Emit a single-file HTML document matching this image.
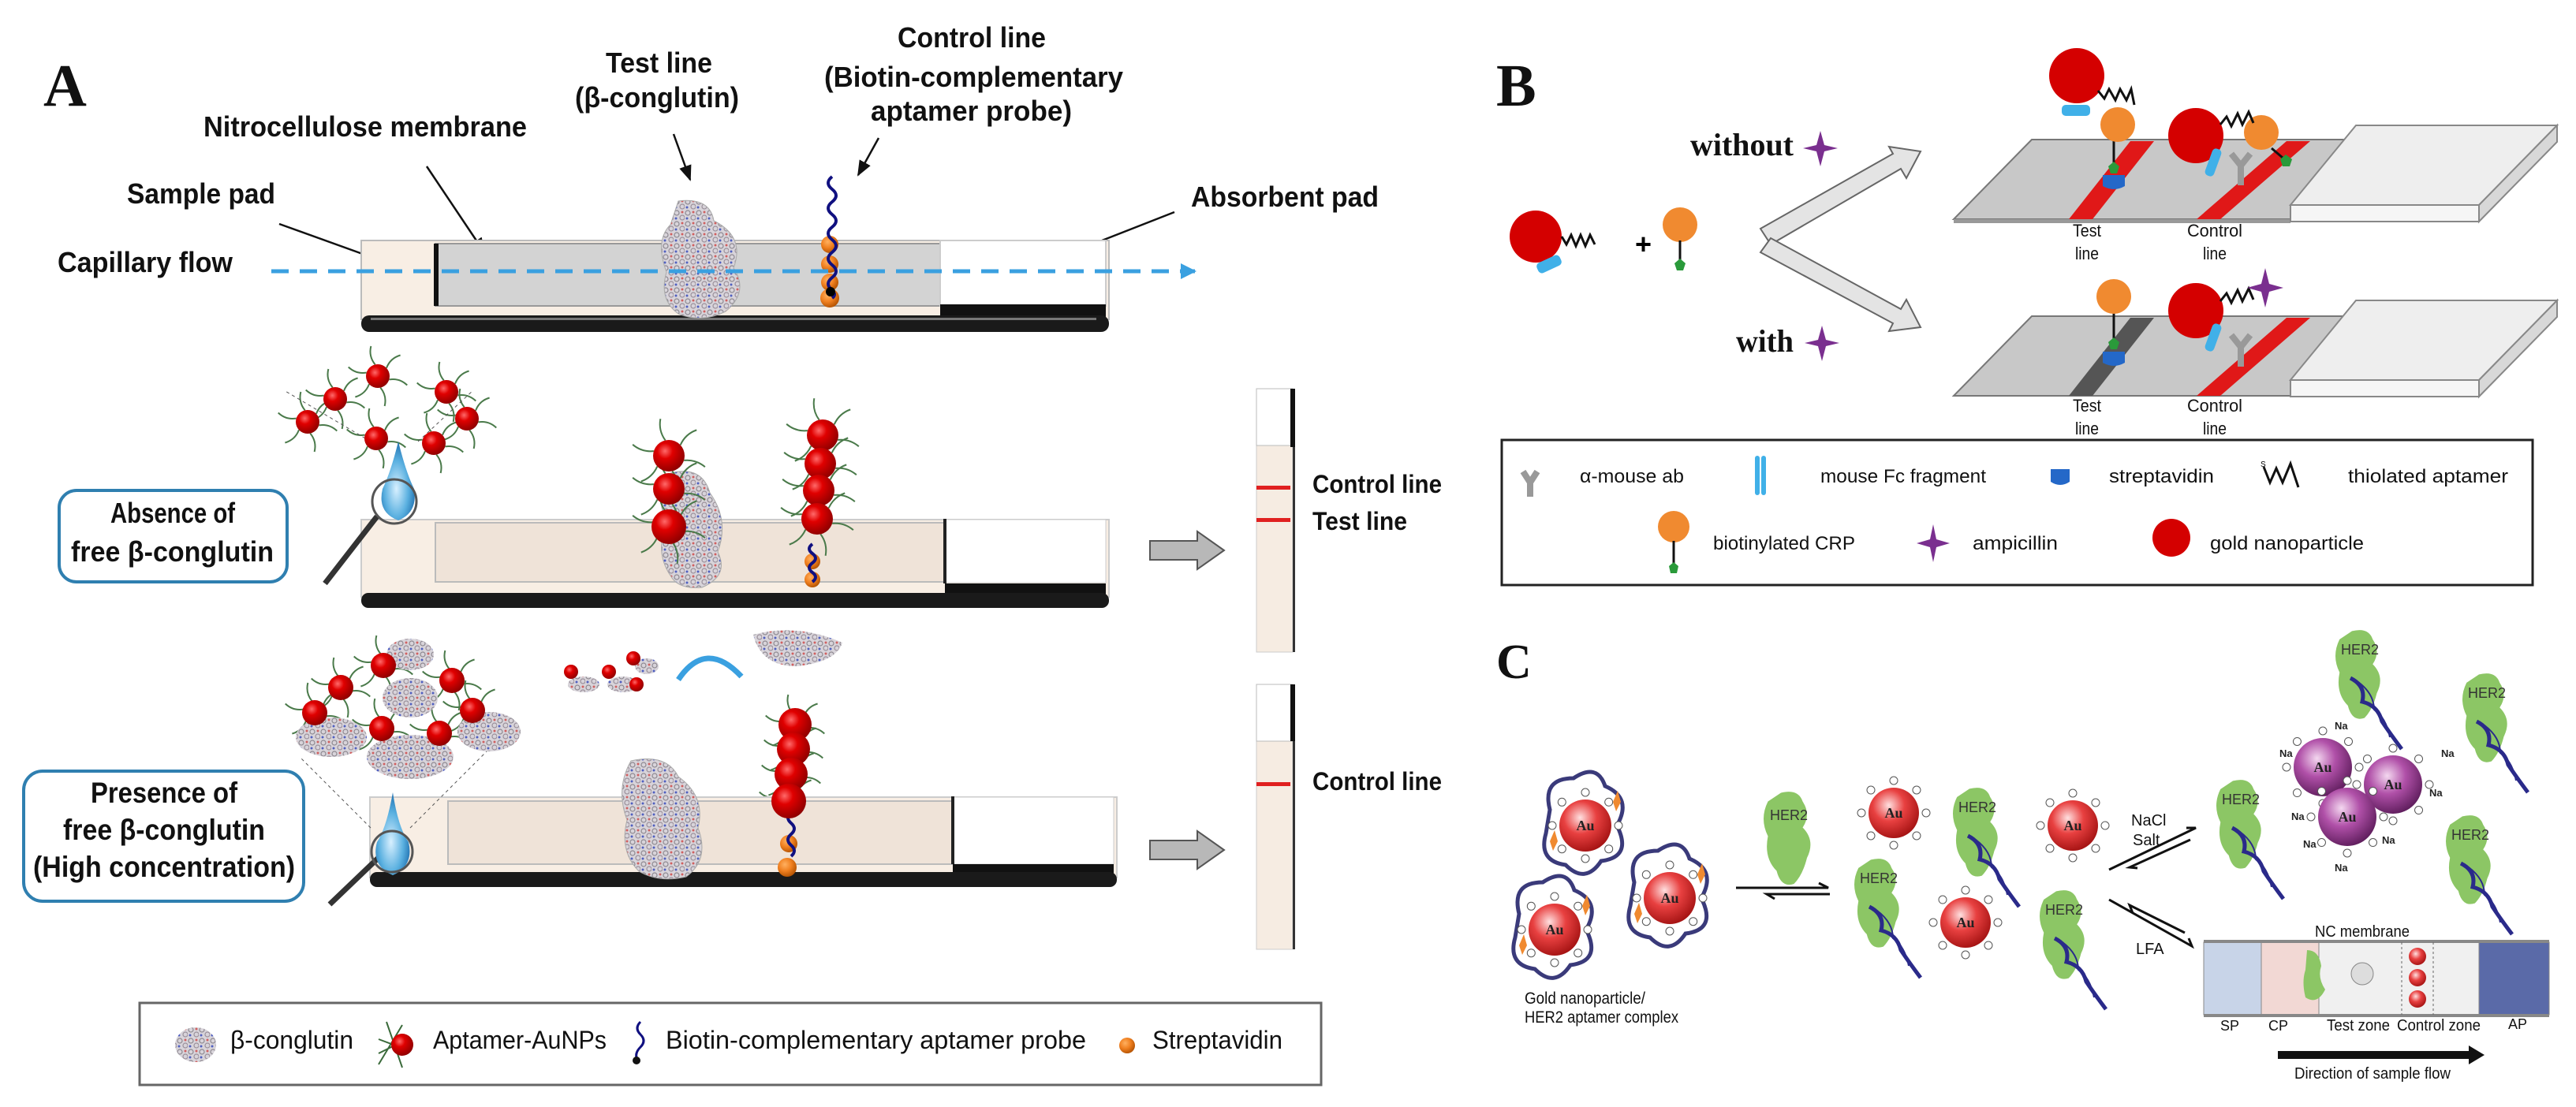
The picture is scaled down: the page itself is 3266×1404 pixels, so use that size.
<!DOCTYPE html>
<html><head><meta charset="utf-8">
<style>
html,body{margin:0;padding:0;background:#fff;}
svg{display:block;}
.n{font-family:"Liberation Sans Narrow","Liberation Sans",sans-serif;fill:#111;}
.s{font-family:"Liberation Serif",serif;font-weight:bold;fill:#111;}
</style></head>
<body>
<svg id="c" xmlns="http://www.w3.org/2000/svg" width="3266" height="1404" viewBox="0 0 3266 1404">
<defs>
<radialGradient id="rg" cx="0.38" cy="0.35" r="0.7"><stop offset="0" stop-color="#ff6a6a"/><stop offset="0.35" stop-color="#e00000"/><stop offset="1" stop-color="#8a0000"/></radialGradient>
<radialGradient id="rg2" cx="0.4" cy="0.35" r="0.7"><stop offset="0" stop-color="#ffe0e0"/><stop offset="0.45" stop-color="#e84040"/><stop offset="1" stop-color="#a01010"/></radialGradient>
<radialGradient id="og" cx="0.38" cy="0.35" r="0.7"><stop offset="0" stop-color="#ffb060"/><stop offset="0.5" stop-color="#f08020"/><stop offset="1" stop-color="#b05000"/></radialGradient>
<radialGradient id="pg" cx="0.4" cy="0.35" r="0.7"><stop offset="0" stop-color="#f4d8f0"/><stop offset="0.45" stop-color="#b050a8"/><stop offset="1" stop-color="#5a1a58"/></radialGradient>
<radialGradient id="dg" cx="0.45" cy="0.6" r="0.6"><stop offset="0" stop-color="#d8f0ff"/><stop offset="0.6" stop-color="#5ab0e0"/><stop offset="1" stop-color="#1f70b0"/></radialGradient>
<pattern id="pp" width="14" height="14" patternUnits="userSpaceOnUse"><rect width="14" height="14" fill="#d8d4da"/><circle cx="4" cy="4" r="3" fill="none" stroke="#8d8890" stroke-width="1.2"/><circle cx="11" cy="10" r="3" fill="none" stroke="#9a8f9a" stroke-width="1.2"/><circle cx="11" cy="3" r="1.5" fill="#d06060"/><circle cx="3" cy="11" r="1.5" fill="#5060c0"/></pattern>
<marker id="ah" viewBox="0 0 10 10" refX="9" refY="5" markerWidth="8" markerHeight="8" orient="auto"><path d="M0,1 L10,5 L0,9 Z" fill="#111"/></marker>
<marker id="ab" viewBox="0 0 10 10" refX="9" refY="5" markerWidth="4" markerHeight="4" orient="auto"><path d="M0,0 L10,5 L0,10 Z" fill="#3aa0e0"/></marker>
</defs>

<!-- ================= PANEL A ================= -->
<text class="s" x="55" y="134" font-size="76">A</text>
<text class="n" x="258" y="173" font-size="36" font-weight="bold" textLength="410" lengthAdjust="spacingAndGlyphs">Nitrocellulose membrane</text>
<text class="n" x="768" y="92" font-size="36" font-weight="bold" textLength="135" lengthAdjust="spacingAndGlyphs">Test line</text>
<text class="n" x="729" y="136" font-size="36" font-weight="bold" textLength="208" lengthAdjust="spacingAndGlyphs">(β-conglutin)</text>
<text class="n" x="1138" y="60" font-size="36" font-weight="bold" textLength="188" lengthAdjust="spacingAndGlyphs">Control line</text>
<text class="n" x="1045" y="110" font-size="36" font-weight="bold" textLength="379" lengthAdjust="spacingAndGlyphs">(Biotin-complementary</text>
<text class="n" x="1104" y="153" font-size="36" font-weight="bold" textLength="255" lengthAdjust="spacingAndGlyphs">aptamer probe)</text>
<text class="n" x="161" y="258" font-size="36" font-weight="bold" textLength="188" lengthAdjust="spacingAndGlyphs">Sample pad</text>
<text class="n" x="73" y="345" font-size="36" font-weight="bold" textLength="222" lengthAdjust="spacingAndGlyphs">Capillary flow</text>
<text class="n" x="1510" y="262" font-size="36" font-weight="bold" textLength="238" lengthAdjust="spacingAndGlyphs">Absorbent pad</text>

<g stroke="#111" stroke-width="2.5" fill="none" marker-end="url(#ah)">
<line x1="354" y1="284" x2="479" y2="329"/>
<line x1="541" y1="211" x2="614" y2="320"/>
<line x1="854" y1="170" x2="875" y2="228"/>
<line x1="1114" y1="175" x2="1088" y2="222"/>
<line x1="1489" y1="269" x2="1359" y2="320"/>
</g>

<rect x="458" y="305" width="948" height="100" fill="#f8eee4" stroke="#bbb" stroke-width="2"/>
<rect x="552" y="309" width="640" height="79" fill="#d3d3d3" stroke="#999" stroke-width="2"/>
<rect x="550" y="309" width="6" height="79" fill="#111"/>
<rect x="1192" y="305" width="210" height="83" fill="#fff" stroke="#ccc" stroke-width="2"/>
<rect x="1192" y="386" width="210" height="16" fill="#111"/>
<rect x="458" y="400" width="948" height="21" rx="10" fill="#1a1a1a"/>
<rect x="470" y="403" width="920" height="3" fill="#777"/>
<path d="M860,255 Q900,250 905,280 Q945,300 930,340 Q950,370 920,395 Q890,410 860,398 Q835,380 845,345 Q830,305 850,285 Z" fill="url(#pp)" stroke="#aaa"/>
<circle cx="1052" cy="310" r="11" fill="url(#og)"/><circle cx="1052" cy="335" r="11" fill="url(#og)"/><circle cx="1052" cy="358" r="11" fill="url(#og)"/><circle cx="1052" cy="378" r="12" fill="url(#og)"/>
<path d="M1055,224 q-10,8 0,16 q10,8 0,16 q-10,8 0,16 q10,8 0,16 q-10,8 0,16 q10,8 0,16 q-10,8 0,16 q10,8 0,16 q-10,8 0,16 q6,6 0,10" fill="none" stroke="#101080" stroke-width="4"/>
<circle cx="1053" cy="370" r="6" fill="#000"/>
<line x1="344" y1="344" x2="1515" y2="344" stroke="#3aa0e0" stroke-width="5" stroke-dasharray="22,14" marker-end="url(#ab)"/>

<rect x="458" y="659" width="948" height="98" fill="#f8eee4" stroke="#ccc" stroke-width="2"/>
<rect x="552" y="663" width="646" height="75" fill="#efe3d8" stroke="#bbb" stroke-width="2"/>
<rect x="1198" y="659" width="204" height="80" fill="#fff" stroke="#ccc"/>
<rect x="1196" y="658" width="4" height="82" fill="#222"/>
<rect x="1198" y="740" width="204" height="16" fill="#111"/>
<rect x="458" y="752" width="948" height="19" rx="9" fill="#1a1a1a"/>
<path d="M850,600 Q890,590 900,625 Q925,660 910,700 Q925,730 890,745 Q860,748 850,730 Q830,700 845,665 Q830,630 850,600Z" fill="url(#pp)" stroke="#aaa"/>
<g id="strands"></g>
<circle cx="1030" cy="735" r="10" fill="url(#og)"/><circle cx="1030" cy="712" r="10" fill="url(#og)"/>
<path d="M1030,690 q-8,6 0,12 q8,6 0,12 q-8,6 0,12 q8,6 0,12" stroke="#101080" stroke-width="4" fill="none"/>
<circle cx="848" cy="578" r="20" fill="url(#rg)"/><circle cx="848" cy="620" r="20" fill="url(#rg)"/><circle cx="848" cy="668" r="22" fill="url(#rg)"/>
<circle cx="1043" cy="552" r="20" fill="url(#rg)"/><circle cx="1040" cy="588" r="20" fill="url(#rg)"/><circle cx="1038" cy="622" r="20" fill="url(#rg)"/><circle cx="1036" cy="658" r="20" fill="url(#rg)"/>

<rect x="75" y="622" width="289" height="116" rx="22" fill="#fff" stroke="#2f7fb0" stroke-width="4"/>
<text class="n" x="140" y="663" font-size="36" font-weight="bold" textLength="158" lengthAdjust="spacingAndGlyphs">Absence of</text>
<text class="n" x="90" y="712" font-size="36" font-weight="bold" textLength="257" lengthAdjust="spacingAndGlyphs">free β-conglutin</text>
<line x1="478" y1="655" x2="412" y2="740" stroke="#333" stroke-width="7"/>
<path d="M505,560 Q495,600 485,620 Q478,650 505,660 Q530,650 525,620 Q515,600 505,560Z" fill="url(#dg)"/>
<circle cx="500" cy="636" r="28" fill="none" stroke="#555" stroke-width="3"/>
<line x1="470" y1="560" x2="360" y2="495" stroke="#555" stroke-dasharray="4,4"/><line x1="530" y1="560" x2="600" y2="495" stroke="#555" stroke-dasharray="4,4"/>
<g>
<circle cx="479" cy="477" r="15" fill="url(#rg)"/><circle cx="425" cy="506" r="15" fill="url(#rg)"/><circle cx="566" cy="497" r="15" fill="url(#rg)"/><circle cx="390" cy="535" r="15" fill="url(#rg)"/><circle cx="592" cy="531" r="15" fill="url(#rg)"/><circle cx="477" cy="556" r="15" fill="url(#rg)"/><circle cx="550" cy="562" r="15" fill="url(#rg)"/>
</g>
<path d="M1458,686 h60 v-12 l34,24 l-34,24 v-12 h-60 z" fill="#b8b8b8" stroke="#555" stroke-width="2"/>
<rect x="1593" y="493" width="46" height="334" fill="#f6ece2" stroke="#ccc"/>
<rect x="1593" y="493" width="46" height="72" fill="#fff" stroke="#bbb"/>
<rect x="1636" y="493" width="6" height="74" fill="#111"/>
<rect x="1639" y="567" width="3" height="260" fill="#333"/>
<rect x="1593" y="616" width="43" height="5" fill="#e02020"/>
<rect x="1593" y="657" width="43" height="5" fill="#e02020"/>
<text class="n" x="1664" y="625" font-size="32" font-weight="bold" textLength="164" lengthAdjust="spacingAndGlyphs">Control line</text>
<text class="n" x="1664" y="672" font-size="32" font-weight="bold" textLength="120" lengthAdjust="spacingAndGlyphs">Test line</text>

<rect x="469" y="1011" width="947" height="102" fill="#f8eee4" stroke="#ccc" stroke-width="2"/>
<rect x="568" y="1016" width="640" height="80" fill="#efe3d8" stroke="#bbb" stroke-width="2"/>
<rect x="1208" y="1011" width="204" height="85" fill="#fff" stroke="#ccc"/>
<rect x="1206" y="1010" width="4" height="86" fill="#222"/>
<rect x="1208" y="1096" width="204" height="16" fill="#111"/>
<rect x="469" y="1106" width="947" height="19" rx="9" fill="#1a1a1a"/>
<path d="M800,965 Q845,955 860,985 Q895,1010 885,1050 Q900,1090 870,1112 Q835,1120 810,1105 Q785,1080 795,1040 Q780,1000 800,965Z" fill="url(#pp)" stroke="#aaa"/>
<circle cx="1000" cy="1070" r="11" fill="url(#og)"/><circle cx="998" cy="1100" r="12" fill="url(#og)"/>
<path d="M1003,1030 q-8,7 0,14 q8,7 0,14 q-8,7 0,14 q8,7 0,14" stroke="#101080" stroke-width="4" fill="none"/>
<circle cx="1008" cy="919" r="21" fill="url(#rg)"/><circle cx="1006" cy="950" r="21" fill="url(#rg)"/><circle cx="1003" cy="982" r="21" fill="url(#rg)"/><circle cx="1000" cy="1016" r="22" fill="url(#rg)"/>
<rect x="30" y="978" width="355" height="165" rx="24" fill="#fff" stroke="#2f7fb0" stroke-width="4"/>
<text class="n" x="115" y="1018" font-size="37" font-weight="bold" textLength="186" lengthAdjust="spacingAndGlyphs">Presence of</text>
<text class="n" x="80" y="1065" font-size="37" font-weight="bold" textLength="256" lengthAdjust="spacingAndGlyphs">free β-conglutin</text>
<text class="n" x="42" y="1112" font-size="37" font-weight="bold" textLength="332" lengthAdjust="spacingAndGlyphs">(High concentration)</text>
<line x1="488" y1="1080" x2="418" y2="1147" stroke="#333" stroke-width="7"/>
<path d="M498,1005 Q490,1050 478,1068 Q470,1098 498,1110 Q525,1098 518,1068 Q505,1050 498,1005Z" fill="url(#dg)"/>
<circle cx="497" cy="1080" r="26" fill="none" stroke="#555" stroke-width="3"/>
<line x1="470" y1="1050" x2="380" y2="960" stroke="#555" stroke-dasharray="4,4"/><line x1="520" y1="1050" x2="620" y2="950" stroke="#555" stroke-dasharray="4,4"/>
<g>
<ellipse cx="420" cy="935" rx="45" ry="25" fill="url(#pp)"/><ellipse cx="520" cy="960" rx="55" ry="28" fill="url(#pp)"/><ellipse cx="620" cy="928" rx="40" ry="25" fill="url(#pp)"/><ellipse cx="520" cy="830" rx="30" ry="20" fill="url(#pp)"/><ellipse cx="520" cy="885" rx="35" ry="25" fill="url(#pp)"/>
<circle cx="486" cy="844" r="16" fill="url(#rg)"/><circle cx="432" cy="872" r="16" fill="url(#rg)"/><circle cx="573" cy="863" r="16" fill="url(#rg)"/><circle cx="399" cy="904" r="16" fill="url(#rg)"/><circle cx="599" cy="901" r="16" fill="url(#rg)"/><circle cx="484" cy="924" r="16" fill="url(#rg)"/><circle cx="557" cy="930" r="16" fill="url(#rg)"/>
</g>
<ellipse cx="740" cy="868" rx="20" ry="10" fill="url(#pp)"/><ellipse cx="790" cy="868" rx="20" ry="10" fill="url(#pp)"/><ellipse cx="820" cy="845" rx="15" ry="10" fill="url(#pp)"/>
<circle cx="724" cy="852" r="9" fill="url(#rg)"/><circle cx="772" cy="852" r="9" fill="url(#rg)"/><circle cx="803" cy="835" r="9" fill="url(#rg)"/><circle cx="807" cy="868" r="9" fill="url(#rg)"/>
<path d="M860,862 Q895,810 940,858" fill="none" stroke="#3aa0e0" stroke-width="7"/>
<path d="M955,805 Q1010,790 1068,815 Q1060,840 1010,845 Q965,845 955,805Z" fill="url(#pp)"/>
<path d="M1458,1066 h60 v-12 l34,24 l-34,24 v-12 h-60 z" fill="#b8b8b8" stroke="#555" stroke-width="2"/>
<rect x="1593" y="868" width="46" height="336" fill="#f6ece2" stroke="#ccc"/>
<rect x="1593" y="868" width="46" height="72" fill="#fff" stroke="#bbb"/>
<rect x="1636" y="868" width="6" height="72" fill="#111"/>
<rect x="1639" y="940" width="3" height="264" fill="#333"/>
<rect x="1593" y="992" width="43" height="5" fill="#e02020"/>
<text class="n" x="1664" y="1002" font-size="32" font-weight="bold" textLength="164" lengthAdjust="spacingAndGlyphs">Control line</text>

<rect x="177" y="1272" width="1498" height="104" fill="#fff" stroke="#666" stroke-width="3"/>
<ellipse cx="248" cy="1325" rx="26" ry="22" fill="url(#pp)"/>
<text class="n" x="292" y="1330" font-size="32" textLength="156" lengthAdjust="spacingAndGlyphs">β-conglutin</text>
<g stroke="#3a6a3a" stroke-width="2" fill="none"><path d="M510,1300 l-30,50 M490,1296 l20,58 M480,1318 l40,15 M520,1316 l-40,20"/></g>
<circle cx="510" cy="1325" r="14" fill="url(#rg)"/>
<text class="n" x="549" y="1330" font-size="32" textLength="220" lengthAdjust="spacingAndGlyphs">Aptamer-AuNPs</text>
<path d="M812,1296 q-8,8 0,16 q8,8 0,16 q-8,8 -4,16" stroke="#101080" stroke-width="3" fill="none"/><circle cx="807" cy="1345" r="5" fill="#111"/>
<text class="n" x="844" y="1330" font-size="32" textLength="533" lengthAdjust="spacingAndGlyphs">Biotin-complementary aptamer probe</text>
<circle cx="1429" cy="1326" r="10" fill="url(#og)"/>
<text class="n" x="1461" y="1330" font-size="32" textLength="165" lengthAdjust="spacingAndGlyphs">Streptavidin</text>

<!-- ================= PANEL B ================= -->
<text class="s" x="1897" y="134" font-size="76">B</text>
<text class="s" x="2143" y="197" font-size="40" textLength="131" lengthAdjust="spacingAndGlyphs">without</text>
<path d="M2308,166 L2313,184 L2330,188 L2313,192 L2308,211 L2303,192 L2286,188 L2303,184Z" fill="#7a2f8f"/>
<text class="s" x="2201" y="446" font-size="40" textLength="73" lengthAdjust="spacingAndGlyphs">with</text>
<path d="M2310,413 L2315,431 L2332,435 L2315,439 L2310,458 L2305,439 L2288,435 L2305,431Z" fill="#7a2f8f"/>
<circle cx="1947" cy="300" r="33" fill="#d40000"/>
<rect x="1948" y="328" width="32" height="14" rx="5" fill="#40b0e8" transform="rotate(-25 1964 335)"/>
<path d="M1980,300 l6,10 l6,-12 l6,14 l6,-14 l6,14 l6,-14 l6,12" stroke="#111" stroke-width="3" fill="none"/>
<text x="2073" y="322" font-family="Liberation Sans" font-size="36" font-weight="bold">+</text>
<circle cx="2130" cy="285" r="22" fill="#f08a30"/>
<line x1="2130" y1="305" x2="2130" y2="330" stroke="#111" stroke-width="3"/>
<path d="M2130,328 l7,6 l-3,9 h-8 l-3,-9z" fill="#2a9a3a"/>
<path d="M2232,290 L2400,195 L2395,186 L2435,192 L2417,226 L2410,214 L2245,310 Z" fill="#e4e4e4" stroke="#666" stroke-width="2"/>
<path d="M2232,320 L2400,410 L2395,420 L2435,415 L2417,380 L2410,392 L2245,302 Z" fill="#e4e4e4" stroke="#666" stroke-width="2"/>
<path d="M2576,177 L2987,177 L2904,278 L2477,278 Z" fill="#c8c8c8" stroke="#777" stroke-width="2"/>
<path d="M2477,278 L2904,278 L2904,283 L2477,283 Z" fill="#999"/>
<path d="M2701,179 L2731,179 L2653,278 L2623,278 Z" fill="#e01818"/>
<path d="M2899,179 L2929,179 L2815,278 L2785,278 Z" fill="#e01818"/>
<path d="M2987,159 L3242,159 L3143,260 L2904,260 Z" fill="#eeeeee" stroke="#888" stroke-width="2"/>
<path d="M2904,260 L3143,260 L3143,281 L2904,281 Z" fill="#f6f6f6" stroke="#888" stroke-width="2"/>
<path d="M3143,260 L3242,159 L3242,180 L3143,281 Z" fill="#d8d8d8" stroke="#888" stroke-width="2"/>
<text class="n" x="2628" y="300" font-size="22" textLength="36" lengthAdjust="spacingAndGlyphs">Test</text>
<text class="n" x="2631" y="329" font-size="22" textLength="30" lengthAdjust="spacingAndGlyphs">line</text>
<text class="n" x="2773" y="300" font-size="22" textLength="70" lengthAdjust="spacingAndGlyphs">Control</text>
<text class="n" x="2793" y="329" font-size="22" textLength="30" lengthAdjust="spacingAndGlyphs">line</text>
<line x1="2680" y1="175" x2="2680" y2="218" stroke="#111" stroke-width="3"/>
<path d="M2680,205 l7,6 l-3,9 h-8 l-3,-9z" fill="#2a9a3a"/>
<path d="M2666,222 h28 v14 q-14,8 -28,0z" fill="#2468c8"/>
<circle cx="2633" cy="96" r="35" fill="#d40000"/>
<rect x="2614" y="133" width="36" height="14" rx="5" fill="#40b0e8"/>
<circle cx="2685" cy="158" r="22" fill="#f08a30"/>
<path d="M2660,115 l8,10 l6,-12 l8,14 l6,-14 l8,14 l6,-14 l4,20" stroke="#111" stroke-width="3" fill="none"/>
<path d="M2841,235 v-25 l-12,-15 M2841,210 l12,-15" stroke="#999" stroke-width="8" fill="none"/>
<circle cx="2784" cy="172" r="35" fill="#d40000"/>
<rect x="2800" y="188" width="12" height="36" rx="5" fill="#40b0e8" transform="rotate(20 2806 206)"/>
<circle cx="2867" cy="168" r="22" fill="#f08a30"/>
<path d="M2880,188 l14,12" stroke="#111" stroke-width="3"/>
<path d="M2898,196 l8,6 l-3,9 h-9 l-3,-9z" fill="#2a9a3a"/>
<path d="M2815,158 l8,-10 l6,12 l8,-16 l6,14 l8,-16 l6,14" stroke="#111" stroke-width="3" fill="none"/>
<path d="M2576,401 L2987,401 L2904,502 L2477,502 Z" fill="#c8c8c8" stroke="#777" stroke-width="2"/>
<path d="M2701,403 L2731,403 L2653,502 L2623,502 Z" fill="#555"/>
<path d="M2899,403 L2929,403 L2815,502 L2785,502 Z" fill="#e01818"/>
<path d="M2987,381 L3242,381 L3143,482 L2904,482 Z" fill="#eeeeee" stroke="#888" stroke-width="2"/>
<path d="M2904,482 L3143,482 L3143,503 L2904,503 Z" fill="#f6f6f6" stroke="#888" stroke-width="2"/>
<path d="M3143,482 L3242,381 L3242,402 L3143,503 Z" fill="#d8d8d8" stroke="#888" stroke-width="2"/>
<text class="n" x="2628" y="522" font-size="22" textLength="36" lengthAdjust="spacingAndGlyphs">Test</text>
<text class="n" x="2631" y="551" font-size="22" textLength="30" lengthAdjust="spacingAndGlyphs">line</text>
<text class="n" x="2773" y="522" font-size="22" textLength="70" lengthAdjust="spacingAndGlyphs">Control</text>
<text class="n" x="2793" y="551" font-size="22" textLength="30" lengthAdjust="spacingAndGlyphs">line</text>
<line x1="2680" y1="395" x2="2680" y2="440" stroke="#111" stroke-width="3"/>
<path d="M2680,428 l7,6 l-3,9 h-8 l-3,-9z" fill="#2a9a3a"/>
<path d="M2666,446 h28 v14 q-14,8 -28,0z" fill="#2468c8"/>
<circle cx="2680" cy="376" r="22" fill="#f08a30"/>
<path d="M2841,465 v-25 l-12,-15 M2841,440 l12,-15" stroke="#999" stroke-width="8" fill="none"/>
<circle cx="2784" cy="394" r="35" fill="#d40000"/>
<rect x="2800" y="410" width="12" height="36" rx="5" fill="#40b0e8" transform="rotate(20 2806 428)"/>
<path d="M2815,382 l8,-10 l6,12 l8,-16 l6,14 l8,-16 l6,14" stroke="#111" stroke-width="3" fill="none"/>
<path d="M2872,340 L2877,360 L2895,365 L2877,370 L2872,390 L2867,370 L2849,365 L2867,360Z" fill="#7a2f8f"/>
<rect x="1904" y="558" width="1307" height="184" fill="#fff" stroke="#222" stroke-width="3"/>
<path d="M1940,630 v-18 l-9,-14 M1940,612 l9,-14" stroke="#999" stroke-width="8" fill="none"/>
<text class="n" x="2003" y="612" font-size="24" textLength="132" lengthAdjust="spacingAndGlyphs">α-mouse ab</text>
<rect x="2225" y="578" width="6" height="50" rx="3" fill="#40b0e8"/><rect x="2233" y="578" width="6" height="50" rx="3" fill="#40b0e8"/>
<text class="n" x="2308" y="612" font-size="24" textLength="210" lengthAdjust="spacingAndGlyphs">mouse Fc fragment</text>
<path d="M2600,595 h24 v16 q-12,8 -24,0z" fill="#2468c8"/>
<text class="n" x="2674" y="612" font-size="24" textLength="133" lengthAdjust="spacingAndGlyphs">streptavidin</text>
<path d="M2870,592 l8,20 l8,-18 l8,18 l10,-24 l10,30" stroke="#111" stroke-width="3" fill="none"/>
<text x="2866" y="592" font-family="Liberation Sans" font-size="10">S</text>
<text class="n" x="2977" y="612" font-size="24" textLength="203" lengthAdjust="spacingAndGlyphs">thiolated aptamer</text>
<circle cx="2122" cy="668" r="20" fill="#f08a30"/>
<line x1="2122" y1="686" x2="2122" y2="715" stroke="#111" stroke-width="3"/>
<path d="M2122,713 l6,5 l-2,9 h-8 l-2,-9z" fill="#2a9a3a"/>
<text class="n" x="2172" y="697" font-size="24" textLength="180" lengthAdjust="spacingAndGlyphs">biotinylated CRP</text>
<path d="M2451,665 L2455,684 L2472,689 L2455,694 L2451,713 L2447,694 L2430,689 L2447,684Z" fill="#7a2f8f"/>
<text class="n" x="2501" y="697" font-size="24" textLength="108" lengthAdjust="spacingAndGlyphs">ampicillin</text>
<circle cx="2753" cy="682" r="24" fill="#d40000"/>
<text class="n" x="2802" y="697" font-size="24" textLength="195" lengthAdjust="spacingAndGlyphs">gold nanoparticle</text>

<!-- ================= PANEL C ================= -->
<text class="s" x="1897" y="860" font-size="62">C</text>
<g id="pc"></g>
<g stroke="#111" stroke-width="3" fill="none">
<path d="M2201,1126 H2318 l-12,-6"/><path d="M2320,1134 H2240 l10,6"/>
<path d="M2674,1103 L2784,1050 l-12,0"/><path d="M2777,1065 L2700,1100 l10,1"/>
<path d="M2674,1141 L2779,1200 l-4,-10"/><path d="M2770,1183 L2700,1148 l4,10"/>
</g>
<text class="n" x="2702" y="1047" font-size="20">NaCl</text>
<text class="n" x="2704" y="1072" font-size="20">Salt</text>
<text class="n" x="2708" y="1210" font-size="20">LFA</text>
<text class="n" x="1933" y="1273" font-size="21" textLength="153" lengthAdjust="spacingAndGlyphs">Gold nanoparticle/</text>
<text class="n" x="1933" y="1297" font-size="21" textLength="195" lengthAdjust="spacingAndGlyphs">HER2 aptamer complex</text>
<rect x="2794" y="1195" width="73" height="92" fill="#c8d4e8" stroke="#888"/>
<rect x="2867" y="1195" width="73" height="92" fill="#f2d8d4" stroke="#888"/>
<rect x="2940" y="1195" width="203" height="92" fill="#f0f0f0" stroke="#888"/>
<rect x="3143" y="1195" width="89" height="92" fill="#5a6aa8" stroke="#888"/>
<rect x="2794" y="1192" width="438" height="4" fill="#888"/><rect x="2794" y="1286" width="438" height="4" fill="#888"/>
<line x1="3045" y1="1195" x2="3045" y2="1287" stroke="#666" stroke-dasharray="3,3"/><line x1="3085" y1="1195" x2="3085" y2="1287" stroke="#666" stroke-dasharray="3,3"/>
<circle cx="3065" cy="1213" r="11" fill="url(#rg2)"/><circle cx="3065" cy="1240" r="11" fill="url(#rg2)"/><circle cx="3065" cy="1267" r="11" fill="url(#rg2)"/>
<circle cx="2995" cy="1235" r="14" fill="#ddd" stroke="#888"/>
<path d="M2925,1205 q15,0 18,20 q-5,15 5,30 q-10,20 -25,10 q-5,-20 0,-35z" fill="#8cc665"/>
<text class="n" x="2935" y="1188" font-size="20" textLength="120" lengthAdjust="spacingAndGlyphs">NC membrane</text>
<text class="n" x="2815" y="1307" font-size="18">SP</text>
<text class="n" x="2876" y="1307" font-size="18">CP</text>
<text class="n" x="2950" y="1307" font-size="20" textLength="80" lengthAdjust="spacingAndGlyphs">Test zone</text>
<text class="n" x="3039" y="1307" font-size="20" textLength="106" lengthAdjust="spacingAndGlyphs">Control zone</text>
<text class="n" x="3180" y="1305" font-size="18">AP</text>
<path d="M2888,1333 H3130 v-7 l20,12 l-20,12 v-7 H2888z" fill="#111"/>
<text class="n" x="2909" y="1368" font-size="20" textLength="198" lengthAdjust="spacingAndGlyphs">Direction of sample flow</text>
</svg>
<script>
(function(){
var NS="http://www.w3.org/2000/svg",svg=document.getElementById('c');
function el(n,a,p){var e=document.createElementNS(NS,n);for(var k in a)e.setAttribute(k,a[k]);(p||svg).appendChild(e);return e;}
var sg=document.getElementById('strands');
function strands(cx,cy,r,n,len){for(var i=0;i<n;i++){var a=i/n*6.283+0.3,x1=cx+Math.cos(a)*r,y1=cy+Math.sin(a)*r,x2=cx+Math.cos(a)*(r+len),y2=cy+Math.sin(a)*(r+len);
var mx=(x1+x2)/2+Math.sin(a)*6,my=(y1+y2)/2-Math.cos(a)*6;
el('path',{d:'M'+x1+','+y1+' Q'+mx+','+my+' '+x2+','+y2,stroke:'#4a7a4a','stroke-width':2,fill:'none'},sg);}}
[[848,578],[848,620],[848,668],[1043,552],[1040,588],[1038,622],[1036,658]].forEach(function(p){strands(p[0],p[1],20,6,28);});
[[479,477],[425,506],[566,497],[390,535],[592,531],[477,556],[550,562],[486,844],[432,872],[573,863],[399,904],[599,901],[484,924],[557,930],[1008,919],[1006,950],[1003,982],[1000,1016]].forEach(function(p){strands(p[0],p[1],15,6,24);});
var pc=document.getElementById('pc');
function her2(x,y,s){el('path',{d:'M'+x+','+(y-45*s)+' q20,-5 25,10 q10,15 0,30 q15,15 5,35 q-5,20 -15,30 q-15,5 -20,-15 q-15,-15 -10,-40 q-10,-20 0,-40 z',fill:'#8cc665',transform:'translate('+x+','+y+') scale('+s+') translate('+(-x)+','+(-y)+')'},pc);
el('text',{x:x-14,y:y-20,'font-family':'Liberation Sans Narrow, Liberation Sans, sans-serif','font-size':18,fill:'#333'},pc).textContent='HER2';}
function apt(x,y){el('path',{d:'M'+x+','+y+' q20,10 15,30 q20,5 25,25 q10,15 25,35',stroke:'#2a2a8a','stroke-width':5,fill:'none'},pc);
el('path',{d:'M'+(x+10)+','+(y+5)+' q20,15 20,35 q15,10 20,35',stroke:'#2a2a8a','stroke-width':2,fill:'none'},pc);}
function au(x,y,r,g,charge){
if(charge){for(var i=0;i<8;i++){var a=i/8*6.283;el('circle',{cx:x+Math.cos(a)*(r+9),cy:y+Math.sin(a)*(r+9),r:5,fill:'#fff',stroke:'#555'},pc);}}
el('circle',{cx:x,cy:y,r:r,fill:'url(#'+g+')'},pc);
el('text',{x:x,y:y+6,'text-anchor':'middle','font-family':'Liberation Serif, serif','font-size':18,'font-weight':'bold',fill:'#222'},pc).textContent='Au';}
[[2010,1047],[2117,1139],[1971,1179]].forEach(function(p){
el('path',{d:'M'+(p[0]-45)+','+(p[1]-20)+' q-10,-40 30,-40 q30,-20 40,10 q35,15 15,50 q20,40 -20,45 q-20,30 -45,5 q-35,-5 -25,-40 z',stroke:'#3a3a7a','stroke-width':5,fill:'none'},pc);
au(p[0],p[1],33,'rg2',true);
el('path',{d:'M'+(p[0]+35)+','+(p[1]-30)+' l6,-14 l4,14 l-6,12z',fill:'#f08a30'},pc);
el('path',{d:'M'+(p[0]-45)+','+(p[1]+20)+' l6,-14 l4,14 l-6,12z',fill:'#f08a30'},pc);});
her2(2258,1060,1.1);
her2(2497,1050,1.05);apt(2495,1060);her2(2372,1140,1.05);apt(2370,1150);her2(2607,1180,1.05);apt(2605,1190);
au(2401,1031,32,'rg2',true);au(2628,1047,32,'rg2',true);au(2492,1170,32,'rg2',true);
her2(2982,850,1.05);apt(2980,860);her2(3143,905,1.05);apt(3140,915);her2(2831,1040,1.05);apt(2830,1050);her2(3122,1085,1.05);apt(3120,1095);
au(2945,973,37,'pg',true);au(3034,995,37,'pg',true);au(2976,1036,37,'pg',true);
[[2890,960],[2905,1040],[3080,1010],[2960,925],[3095,960],[2960,1105],[3020,1070],[2920,1075]].forEach(function(p){el('text',{x:p[0],y:p[1],'font-family':'Liberation Sans','font-size':13,'font-weight':'bold',fill:'#222'},pc).textContent='Na';});
})();
</script>
</body></html>
